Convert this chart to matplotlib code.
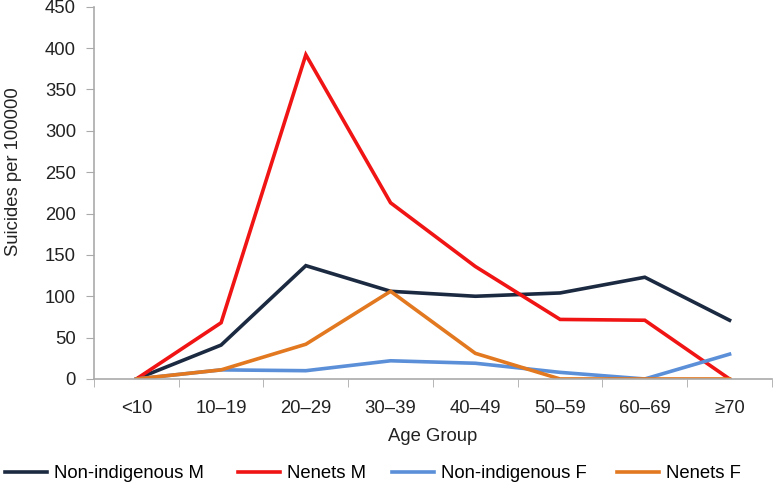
import matplotlib
matplotlib.use("Agg")
import matplotlib.pyplot as plt
import numpy as np

categories = ["<10", "10\u201319", "20\u201329", "30\u201339", "40\u201349", "50\u201359", "60\u201369", "\u226570"]
non_indig_m = [0, 41, 137, 106, 100, 104, 123, 71]
nenets_m = [0, 68, 392, 213, 136, 72, 71, 0]
non_indig_f = [0, 11, 10, 22, 19, 8, 0, 30]
nenets_f = [0, 11, 42, 106, 31, 0, 0, 0]

series = [
    ("Non-indigenous M", non_indig_m, "#1b2a41"),
    ("Nenets M", nenets_m, "#f01414"),
    ("Non-indigenous F", non_indig_f, "#5b8fd8"),
    ("Nenets F", nenets_f, "#e2781f"),
]
legend_x_px = [5, 238, 392, 617]

FS = 13.3
plt.rcParams['font.family'] = ['Liberation Sans', 'DejaVu Sans']
fig = plt.figure(figsize=(7.73, 4.84), dpi=100)
ax = fig.add_axes([0.1216, 0.217, 0.8770, 0.769])

x = np.arange(len(categories))
lines = []
for name, vals, col in series:
    ln, = ax.plot(x, vals, color=col, lw=2.6, label=name, solid_joinstyle='miter')
    lines.append(ln)

ax.set_xlim(-0.5, len(categories) - 0.5)
ax.set_ylim(0, 450)
ax.set_yticks(np.arange(0, 451, 50))
ax.set_xticks(x)
ax.set_xticklabels(categories)
ax.set_xticks(np.arange(-0.5, len(categories)), minor=True)
ax.tick_params(axis='x', which='major', length=0, pad=15, labelsize=FS, colors='#222222')
ax.tick_params(axis='x', which='minor', length=6, color='#aaaaaa', direction='out')
ax.tick_params(axis='y', length=6, color='#aaaaaa', labelsize=FS, labelcolor='#222222', pad=7)
for s in ['top', 'right']:
    ax.spines[s].set_visible(False)
for s in ['left', 'bottom']:
    ax.spines[s].set_color('#aaaaaa')
    ax.spines[s].set_linewidth(1.2)
ax.set_xlabel("Age Group", fontsize=FS, color='#222222', labelpad=8)
ax.set_ylabel("Suicides per 100000", fontsize=FS, color='#222222')
ax.yaxis.set_label_coords(-0.106, 0.556)

W = 773.0
for ln, (name, _, _), xp in zip(lines, series, legend_x_px):
    fig.legend([ln], [name], loc='center left', bbox_to_anchor=(xp / W, 0.021),
               bbox_transform=fig.transFigure, frameon=False, borderaxespad=0,
               borderpad=0, fontsize=FS, handlelength=2.27, handletextpad=0.38)

fig.savefig("out.png", dpi=100)
